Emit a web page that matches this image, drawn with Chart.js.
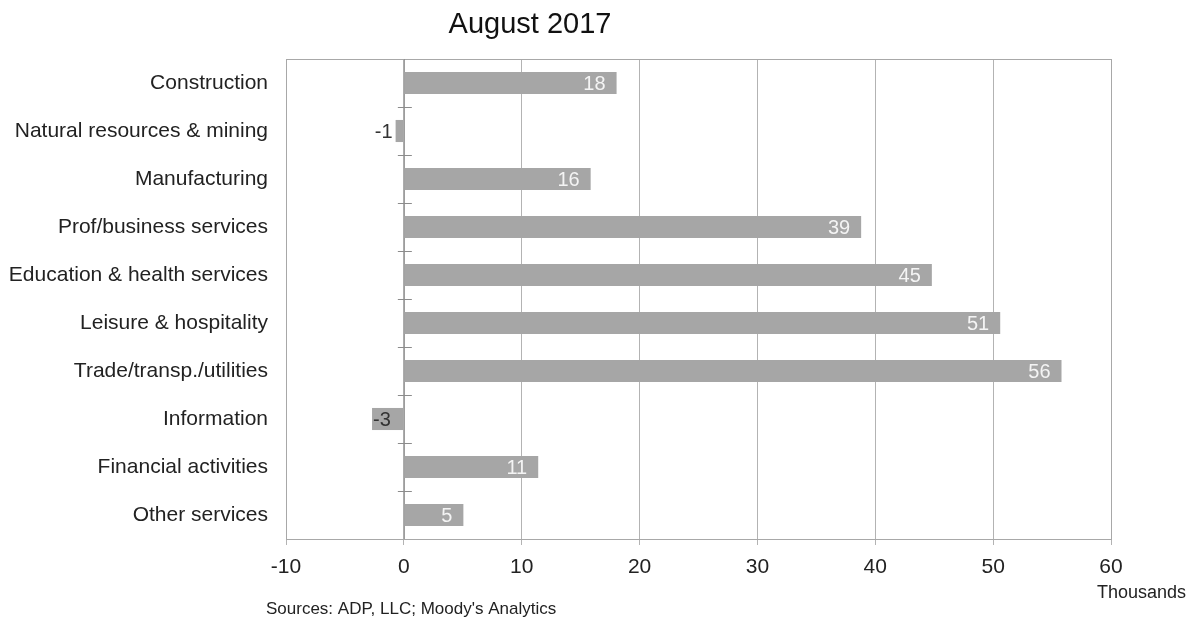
<!DOCTYPE html>
<html>
<head>
<meta charset="utf-8">
<title>August 2017</title>
<script src="https://cdn.jsdelivr.net/npm/chart.js@4"></script>
<style>
  body { margin: 0; background: #fff; }
  #wrap { width: 1198px; height: 624px; position: relative; }
</style>
</head>
<body>
<div id="wrap"><canvas id="myChart"></canvas></div>
<script>
const sectors = [
  'Construction',
  'Natural resources & mining',
  'Manufacturing',
  'Prof/business services',
  'Education & health services',
  'Leisure & hospitality',
  'Trade/transp./utilities',
  'Information',
  'Financial activities',
  'Other services'
];
const jobChange = [18.05, -0.7, 15.85, 38.8, 44.8, 50.6, 55.8, -2.7, 11.4, 5.05];
const xTicks = [-10, 0, 10, 20, 30, 40, 50, 60];

const FONT = '"Liberation Sans", Arial, sans-serif';

// frame, zero line with little ticks, title and notes
const extras = {
  id: 'extras',
  beforeDatasetsDraw: (chart) => {
    const { ctx, chartArea: a, scales } = chart;
    const x0 = scales.x.getPixelForValue(0);
    ctx.save();
    ctx.strokeStyle = '#a8a8a8';
    ctx.lineWidth = 1;
    ctx.strokeRect(a.left + 0.5, a.top + 0.5, a.right - a.left, a.bottom - a.top);

    ctx.strokeStyle = '#8c8c8c';
    ctx.beginPath();
    ctx.moveTo(x0 + 0.5, a.top);
    ctx.lineTo(x0 + 0.5, a.bottom);
    const step = (a.bottom - a.top) / sectors.length;
    for (let i = 1; i < sectors.length; i++) {
      const y = Math.round(a.top + step * i) + 0.5;
      ctx.moveTo(x0 - 6, y);
      ctx.lineTo(x0 + 8, y);
    }
    ctx.stroke();
    ctx.restore();
  },
  afterDatasetsDraw: (chart) => {
    const { ctx } = chart;
    const meta = chart.getDatasetMeta(0);
    ctx.save();
    ctx.font = '20px ' + FONT;
    ctx.textBaseline = 'middle';
    meta.data.forEach((bar, i) => {
      const v = jobChange[i];
      const txt = String(Math.round(v));
      if (v >= 0) {
        ctx.fillStyle = '#f4f4f4';
        ctx.textAlign = 'right';
        ctx.fillText(txt, bar.x - 11, bar.y + 1);
      } else {
        const w = bar.base - bar.x;
        ctx.fillStyle = '#333';
        if (ctx.measureText(txt).width < w - 2) {
          ctx.textAlign = 'left';
          ctx.fillText(txt, bar.x + 1, bar.y + 1);
        } else {
          ctx.textAlign = 'right';
          ctx.fillText(txt, bar.x - 3, bar.y + 1);
        }
      }
    });

    ctx.fillStyle = '#111';
    ctx.textAlign = 'center';
    ctx.textBaseline = 'alphabetic';
    ctx.font = '29px ' + FONT;
    ctx.fillText('August 2017', 530, 33);

    ctx.fillStyle = '#222';
    ctx.textAlign = 'left';
    ctx.font = '18px ' + FONT;
    ctx.fillText('Thousands', 1097, 598);

    ctx.font = '17px ' + FONT;
    ctx.fillText("Sources: ADP, LLC; Moody's Analytics", 266, 614);
    ctx.restore();
  }
};

new Chart(document.getElementById('myChart'), {
  type: 'bar',
  data: {
    labels: sectors,
    datasets: [
      {
        label: 'Thousands',
        data: jobChange,
        backgroundColor: '#a6a6a6',
        borderWidth: 0,
        categoryPercentage: 1,
        barPercentage: 0.46,
      },
    ],
  },
  options: {
    indexAxis: 'y',
    responsive: true,
    maintainAspectRatio: false,
    animation: false,
    layout: { padding: { left: 0, top: 59, right: 87, bottom: 0 } },
    plugins: {
      legend: { display: false },
      tooltip: { enabled: false },
    },
    scales: {
      x: {
        min: xTicks[0],
        max: xTicks[xTicks.length - 1],
        afterBuildTicks: (scale) => {
          scale.ticks = xTicks.map((v) => ({ value: v }));
        },
        afterFit: (scale) => { scale.height = 85; },
        grid: { color: '#b3b3b3', tickLength: 6, drawTicks: true },
        border: { color: '#a8a8a8' },
        ticks: {
          color: '#222',
          padding: 10,
          font: { family: FONT, size: 21 },
        },
      },
      y: {
        afterFit: (scale) => { scale.width = 286; },
        grid: { display: false, drawTicks: false },
        border: { color: '#a8a8a8' },
        ticks: {
          color: '#222',
          padding: 18,
          font: { family: FONT, size: 21 },
        },
      },
    },
  },
  plugins: [extras],
});
</script>
</body>
</html>
